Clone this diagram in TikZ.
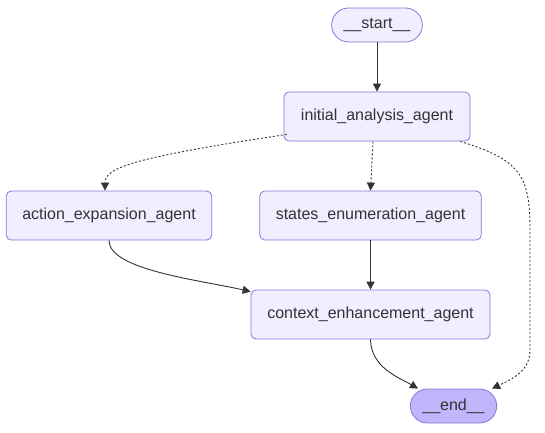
\documentclass[tikz,border=0pt]{standalone}
\usepackage{fontspec}
\setmainfont{Liberation Sans}
\usetikzlibrary{arrows.meta}

\begin{document}
\begin{tikzpicture}[x=1pt, y=-1pt,
    agent/.style={draw=mmstroke, fill=mmfill, line width=0.8pt, rounded corners=5pt,
      minimum height=49pt, inner xsep=16pt, text=mmtext, font=\fontsize{16}{18}\selectfont},
    terminal/.style={draw=mmstroke, fill=mmfill, line width=0.8pt, rounded corners=17pt,
      minimum height=34pt, inner xsep=12pt, text=mmtext, font=\fontsize{16}{18}\selectfont},
    flow/.style={draw=mmline, line width=0.9pt, -{Triangle[length=8pt,width=8pt]}},
    cond/.style={flow, dash pattern=on 2pt off 2pt}]
  \definecolor{mmfill}{HTML}{F0EEFF}
  \definecolor{mmstroke}{HTML}{9370DB}
  \definecolor{mmend}{HTML}{BFB6FC}
  \definecolor{mmline}{HTML}{333333}
  \definecolor{mmtext}{HTML}{333333}
  \useasboundingbox[fill=white] (0,0) rectangle (545,432);

  \node[terminal, minimum width=90pt] (start) at (377,25) {\_\_start\_\_};
  \node[agent, minimum width=186pt] (initial) at (377,116.5) {initial\_analysis\_agent};
  \node[agent, minimum width=202pt] (action) at (109,215.5) {action\_expansion\_agent};
  \node[agent, minimum width=221pt] (states) at (370.5,215.5) {states\_enumeration\_agent};
  \node[agent, minimum width=239pt] (context) at (370.5,314.5) {context\_enhancement\_agent};
  \node[terminal, minimum width=83pt, fill=mmend] (end) at (453.5,406) {\_\_end\_\_};

  \draw[flow] (start) -- (initial);
  \draw[cond] ([xshift=3pt,yshift=7pt]initial.south west)
    .. controls (130,158) and (105,168) .. ([xshift=-4pt]action.north);
  \draw[cond] ([xshift=-4pt]initial.south) -- (states.north);
  \draw[cond] ([xshift=-10pt]initial.south east)
    .. controls (520,160) and (530,175) .. (530,230)
    -- (530,350) .. controls (530,372) and (510,380) .. ([xshift=-5pt]end.north east);
  \draw[flow] (action.south) .. controls (109,270) and (200,280) .. ([yshift=-2pt]context.north west);
  \draw[flow] (states) -- (context);
  \draw[flow] (context.south) .. controls (371,368) and (400,378) .. ([xshift=8pt]end.north west);
\end{tikzpicture}
\end{document}
